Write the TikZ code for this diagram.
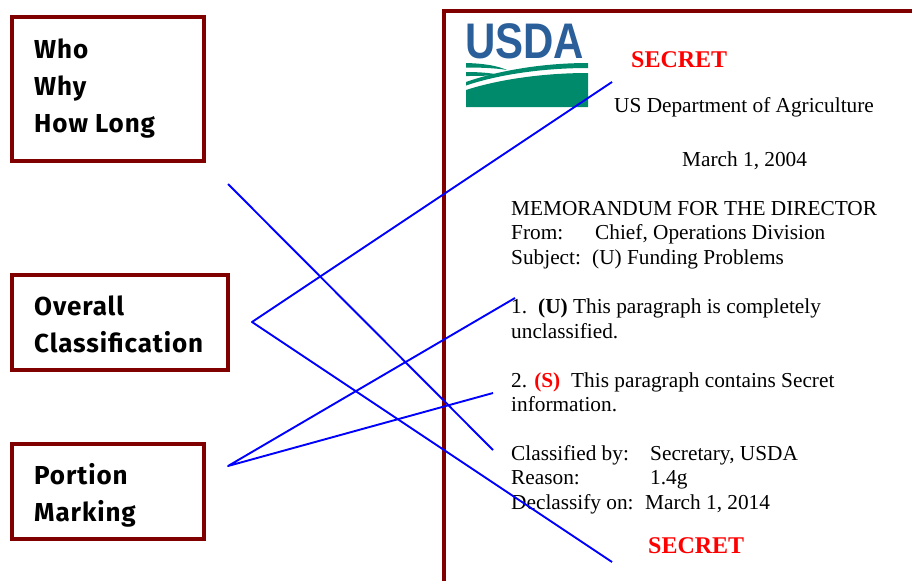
\documentclass[tikz,border=0pt]{standalone}
\usepackage{fontspec}
\setmainfont{Liberation Serif}
\newfontfamily\boxfont[LetterSpace=3.5]{Fira Sans}
\newfontfamily\logofont{Liberation Sans}
\definecolor{frameRed}{HTML}{800000}
\definecolor{lineBlue}{HTML}{0000FF}
\definecolor{logoBlue}{HTML}{2A5F9A}
\definecolor{logoGreen}{HTML}{008A6C}
\tikzset{
  x=1pt,y=-1pt,
  sidebox/.style={draw=frameRed,line width=4pt,fill=white,inner sep=0pt,anchor=north west},
  sidetext/.style={anchor=base west,inner sep=0pt,font=\boxfont\bfseries\fontsize{26}{26}\selectfont},
  doc/.style={anchor=base west,inner sep=0pt,font=\fontsize{21.3}{21.3}\selectfont},
  secret/.style={anchor=base west,inner sep=0pt,text=red,font=\bfseries\fontsize{24}{24}\selectfont},
  conn/.style={draw=lineBlue,line width=1.9pt,line join=round},
}
\begin{document}
\begin{tikzpicture}
\useasboundingbox (0,0) rectangle (912,581);
% page frame
\draw[frameRed,line width=4pt] (444,581) -- (444,11) -- (912,11);
% side boxes
\node[sidebox,minimum width=192pt,minimum height=144pt] (whobox) at (10,15) {};
\node[sidebox,minimum width=216pt,minimum height=95pt] (overallbox) at (10,273) {};
\node[sidebox,minimum width=192pt,minimum height=95pt] (portionbox) at (10,442) {};
\node[sidetext] (who) at (34,58) {Who};
\node[sidetext] (why) at (34,95) {Why};
\node[sidetext] (howlong) at (34,132) {How Long};
\node[sidetext] (overall) at (34,315) {Overall};
\node[sidetext] (classif) at (34,352) {Classification};
\node[sidetext] (portion) at (34,484) {Portion};
\node[sidetext] (marking) at (34,521) {Marking};
% logo
\fill[logoGreen] (466,63) .. controls (485,63.5) and (498,66) .. (507,70) .. controls (495,68) and (480,67.5) .. (466,67.5) -- cycle;
\fill[logoGreen] (466,72) .. controls (480,72) and (490,73) .. (498,74.5) .. controls (488,76) and (478,76) .. (466,76) -- cycle;
\fill[logoGreen] (466,82) .. controls (500,70) and (545,63) .. (588,63) -- (588,68) .. controls (545,68) and (500,74) .. (466,85.5) -- cycle;
\fill[logoGreen] (466,90) .. controls (500,79) and (545,73) .. (588,73) -- (588,107) -- (466,107) -- cycle;
\node[anchor=base west,inner sep=0pt,text=logoBlue,font=\logofont\bfseries\fontsize{50}{50}\selectfont,xscale=0.84] (usda) at (465,58) {USDA};
% document text
\node[secret] (secrettop) at (631,67) {SECRET};
\node[doc] (dept) at (614,112) {US Department of Agriculture};
\node[doc] (date) at (682,166) {March 1, 2004};
\node[doc] (memo) at (511,215) {MEMORANDUM FOR THE DIRECTOR};
\node[doc] (from) at (511,239) {From:};
\node[doc] (chief) at (595,239) {Chief, Operations Division};
\node[doc] (subject) at (511,264) {Subject:};
\node[doc] (funding) at (592,264) {(U) Funding Problems};
\node[doc] (p1a) at (511,313) {1.};
\node[doc] (p1b) at (538,313) {\textbf{(U)} This paragraph is completely};
\node[doc] (p1c) at (511,338) {unclassified.};
\node[doc] (p2a) at (511,387) {2. \textcolor{red}{\textbf{(S)}}};
\node[doc] (p2b) at (571,387) {This paragraph contains Secret};
\node[doc] (p2c) at (511,411) {information.};
\node[doc] (cby) at (511,460) {Classified by:};
\node[doc] (sec) at (650,460) {Secretary, USDA};
\node[doc] (reason) at (511,484) {Reason:};
\node[doc] (rval) at (650,484) {1.4g};
\node[doc] (declass) at (511,509) {Declassify on:};
\node[doc] (ddate) at (645,509) {March 1, 2014};
\node[secret] (secretbot) at (648,553) {SECRET};
% connector ends
\coordinate (a1) at (228,184);
\coordinate (a2) at (493,450);
\coordinate (b0) at (252,322);
\coordinate (b1) at (612,82);
\coordinate (b2) at (612,562);
\coordinate (c0) at (228,466);
\coordinate (c1) at (515,298);
\coordinate (c2) at (493,393);
\draw[conn] (a1) -- (a2);
\draw[conn] (b1) -- (b0) -- (b2);
\draw[conn] (c1) -- (c0) -- (c2);
\end{tikzpicture}
\end{document}
